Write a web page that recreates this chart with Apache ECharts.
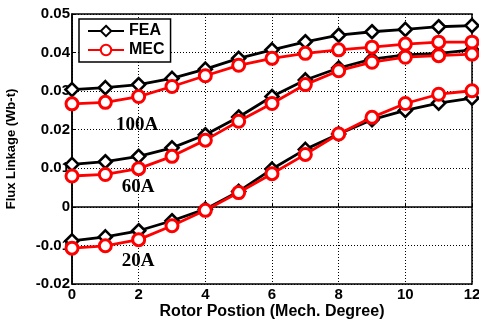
<!DOCTYPE html>
<html>
<head>
<meta charset="utf-8">
<script src="https://cdn.jsdelivr.net/npm/echarts@6/dist/echarts.min.js"></script>
<style>
  html, body { margin: 0; padding: 0; background: #fff; }
  #main { width: 479px; height: 320px; }
</style>
</head>
<body>
<div id="main"></div>
<script>
// rotor position in mech. degrees
var positions = [0, 1, 2, 3, 4, 5, 6, 7, 8, 9, 10, 11, 12];

// FEA results
var fea100 = [0.0304, 0.0309, 0.0317, 0.0333, 0.0357, 0.0385, 0.0407, 0.0428, 0.0445, 0.0454, 0.0460, 0.0467, 0.0470];
var fea60  = [0.0110, 0.0117, 0.0131, 0.0153, 0.0187, 0.0233, 0.0286, 0.0329, 0.0360, 0.0383, 0.0394, 0.0398, 0.0407];
var fea20  = [-0.0088, -0.0078, -0.0062, -0.0036, -0.0006, 0.0040, 0.0098, 0.0149, 0.0189, 0.0226, 0.0250, 0.0269, 0.0282];

// MEC results
var mec100 = [0.0267, 0.0271, 0.0286, 0.0312, 0.0340, 0.0367, 0.0385, 0.0398, 0.0407, 0.0414, 0.0422, 0.0427, 0.0427];
var mec60  = [0.0080, 0.0084, 0.0099, 0.0131, 0.0173, 0.0222, 0.0268, 0.0317, 0.0353, 0.0375, 0.0388, 0.0392, 0.0396];
var mec20  = [-0.0107, -0.0101, -0.0085, -0.0049, -0.0009, 0.0037, 0.0086, 0.0136, 0.0189, 0.0232, 0.0268, 0.0292, 0.0301];

// curve labels: [text, x, y] in data coords
var curveLabels = [['100A', 1.95, 0.0212], ['60A', 1.98, 0.0052], ['20A', 1.98, -0.0140]];

var chart = echarts.init(document.getElementById('main'));

function pairs(vals){
    return positions.map(function(p, i){ return [p, vals[i]]; });
}

function feaSeries(vals){
    return {
        name: 'FEA', type: 'line', data: pairs(vals),
        symbol: 'diamond', symbolSize: [13, 13], showAllSymbol: true,
        z: 2,
        lineStyle: { color: '#000', width: 2.8 },
        itemStyle: { color: '#fff', borderColor: '#000', borderWidth: 2.6 },
        emphasis: { disabled: true }, animation: false
    };
}
function mecSeries(vals){
    return {
        name: 'MEC', type: 'line', data: pairs(vals),
        symbol: 'circle', symbolSize: 12, showAllSymbol: true,
        z: 3,
        lineStyle: { color: '#ff0000', width: 2.8 },
        itemStyle: { color: '#fff', borderColor: '#ff0000', borderWidth: 3 },
        emphasis: { disabled: true }, animation: false
    };
}

var axisFont = { color: '#000', fontFamily: 'Liberation Sans, Arial', fontWeight: 'bold', fontSize: 15 };

var option = {
    backgroundColor: '#fff',
    animation: false,
    grid: {
        left: 72, right: 7, top: 14, bottom: 36,
        outerBoundsMode: 'none', containLabel: false,
        show: true, borderColor: '#000', borderWidth: 1.5
    },
    legend: {
        data: ['FEA', 'MEC'],
        orient: 'vertical',
        left: 79, top: 19,
        itemWidth: 36, itemHeight: 13, itemGap: 3,
        backgroundColor: '#fff', borderColor: '#000', borderWidth: 1.5,
        padding: [4, 6, 4, 8],
        textStyle: { color: '#000', fontFamily: 'Liberation Sans, Arial', fontWeight: 'bold', fontSize: 16, padding: [0, 0, 0, 0] }
    },
    xAxis: {
        type: 'value', min: 0, max: 12, interval: 2,
        name: 'Rotor Postion (Mech. Degree)', nameLocation: 'middle', nameGap: 20,
        nameMoveOverlap: false,
        nameTextStyle: { color: '#000', fontFamily: 'Liberation Sans, Arial', fontWeight: 'bold', fontSize: 16 },
        axisLine: { lineStyle: { color: '#000', width: 1.5 } },
        axisTick: { inside: true, length: 4, lineStyle: { color: '#000' } },
        axisLabel: Object.assign({ margin: 3 }, axisFont),
        splitLine: { show: true, lineStyle: { color: '#000', type: [1, 2], width: 1 } }
    },
    yAxis: {
        type: 'value', min: -0.02, max: 0.05, interval: 0.01,
        name: 'Flux Linkage (Wb-t)', nameLocation: 'middle', nameGap: 54,
        nameMoveOverlap: false,
        nameTextStyle: { color: '#000', fontFamily: 'Liberation Sans, Arial', fontWeight: 'bold', fontSize: 13 },
        axisLine: { lineStyle: { color: '#000', width: 1.5 } },
        axisTick: { inside: true, length: 4, lineStyle: { color: '#000' } },
        axisLabel: Object.assign({ margin: 2, formatter: function(v){ return String(+v.toFixed(2)); } }, axisFont),
        splitLine: { show: true, lineStyle: { color: '#000', type: [1, 2], width: 1 } }
    },
    series: [
        feaSeries(fea100), feaSeries(fea60), feaSeries(fea20),
        mecSeries(mec100), mecSeries(mec60), mecSeries(mec20)
    ]
};
chart.setOption(option);

// put the current labels on the plot
var texts = curveLabels.map(function(l){
    var p = chart.convertToPixel({ gridIndex: 0 }, [l[1], l[2]]);
    return {
        type: 'text', x: p[0], y: p[1], z: 10,
        style: {
            text: l[0], fill: '#000', align: 'center', verticalAlign: 'middle',
            font: 'bold 19px "Liberation Serif", "Times New Roman", serif'
        }
    };
});
chart.setOption({ graphic: texts });
</script>
</body>
</html>
